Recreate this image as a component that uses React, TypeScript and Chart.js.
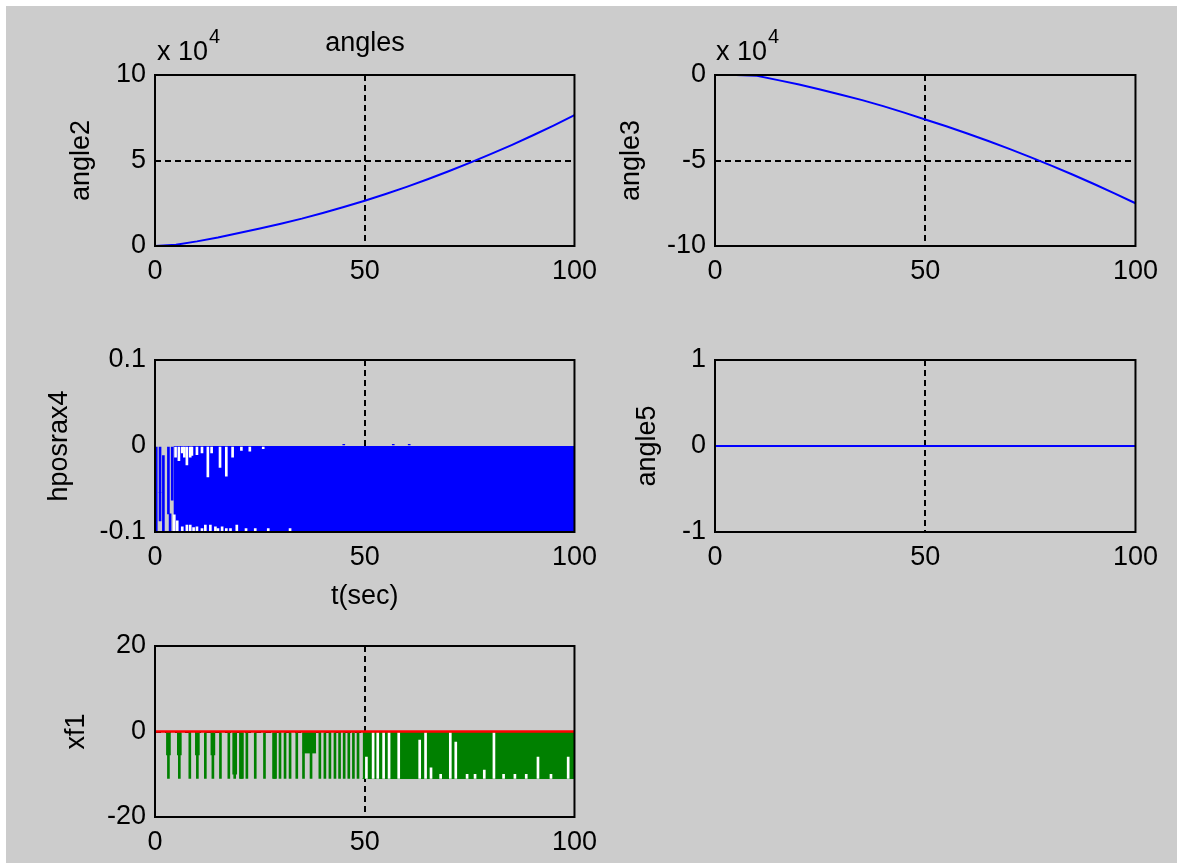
import React, { useEffect, useRef } from "react";
import { Chart, registerables } from "chart.js";

Chart.register(...registerables);

const FAMILY = "'Liberation Sans', Arial, Helvetica, sans-serif";
const FS = 27;

// ---------- data ----------
const xTicks = [0, 50, 100];

const tAngle = [0, 5, 10, 15, 20, 25, 30, 35, 40, 45, 50, 55, 60, 65, 70, 75, 80, 85, 90, 95, 100];
// values in units of 10^4
const angle2 = [0, 0.08, 0.27, 0.5, 0.76, 1.02, 1.3, 1.6, 1.93, 2.28, 2.65, 3.04, 3.46, 3.9, 4.37, 4.86, 5.37, 5.9, 6.46, 7.04, 7.65];
const angle3 = [0, 0, -0.05, -0.3, -0.56, -0.85, -1.15, -1.47, -1.82, -2.2, -2.6, -3.0, -3.42, -3.86, -4.32, -4.8, -5.3, -5.82, -6.36, -6.92, -7.5];
const yTicksAngle2 = [0, 5, 10];
const yTicksAngle3 = [-10, -5, 0];

const tAngle5 = [0, 100];
const angle5 = [0, 0];
const yTicksAngle5 = [-1, 0, 1];

// hposrax4 : dense oscillation between 0 and -0.1
const yTicksHpos = [-0.1, 0, 0.1];
const hposBlockT = [4.4, 100];
const hposBlockY = [-0.1, -0.1];
const hposStrokeT = [0.3, 1.2, 1.2, 2.0, 3.2, 3.6, 4.1];
const hposStrokeLo = [-0.1, -0.054, -0.087, -0.1, -0.079, -0.1, -0.063];
const hposStrokeHi = [0, 0, -0.054, -0.011, 0, -0.079, 0];
const hposTopGapT = [4.9, 5.7, 6.5, 7.0, 7.6, 8.4, 8.8, 10, 11.2, 12.6, 13.5, 15.5, 17, 18.5, 20.6, 22.6, 25.8];
const hposTopGapDepth = [-0.013, -0.017, -0.008, -0.013, -0.022, -0.013, -0.011, -0.01, -0.008, -0.036, -0.008, -0.025, -0.035, -0.013, -0.005, -0.006, -0.003];
const hposBottomGapT = [4.6, 5.3, 6.5, 7.6, 8.4, 9.2, 10, 11.2, 12, 13.2, 14.4, 15, 16, 17, 18, 19.5, 21.7, 23.9, 27, 32.2];
const hposBottomGapTop = [-0.08, -0.087, -0.094, -0.092, -0.092, -0.095, -0.094, -0.096, -0.092, -0.092, -0.094, -0.096, -0.094, -0.096, -0.096, -0.092, -0.096, -0.096, -0.096, -0.096];
const hposBlipT = [45, 56.8, 60.6];
const hposBlipY = [0.002, 0.002, 0.002];

// xf1 : pulses between 0 and about -11
const yTicksXf = [-20, 0, 20];
const xfRefT = [0, 100];
const xfRefY = [0, 0];
const xfThinT = [3.2, 5.8, 8.3, 10.1, 12.0, 13.8, 15.6, 17.6, 19.0, 20.6, 21.9, 23.9, 26.1, 28.5, 29.8, 31.0, 32.2, 33.8, 35.4, 37.2, 39.3, 40.5, 41.7, 42.9, 44.0, 45.1, 46.2, 47.3, 48.4];
const xfThinLo = [-11, -11, -11, -11, -11, -11, -11, -11, -11, -11, -11, -11, -11, -11, -11, -11, -11, -11, -11, -11, -11, -11, -11, -11, -11, -11, -11, -11, -11];
const xfThickT = [3.2, 5.8, 10.1, 13.8, 19.0, 20.6, 28.5];
const xfThickLo = [-5.5, -5.5, -5.5, -5.5, -10, -11, -11];
const xfShelfT = [35.2, 38.4];
const xfShelfY = [-5, -5];
const xfBlockT = [49.5, 100];
const xfBlockY = [-11, -11];
const xfGapT = [50.4, 52.0, 53.1, 54.5, 55.8, 58.1, 63.1, 64.5, 65.8, 68.1, 70.4, 71.7, 74.4, 76.3, 78.5, 80.8, 83.1, 85.8, 88.5, 91.3, 94.4, 98.5];
const xfGapTop = [-6, 0, 0, 0, 0, 0, -2, 0, -8.5, -10, 0, -2.5, -10, -10, -9, 0, -10, -10, -10, -6, -10, -6];

// ---------- helpers ----------
const pts = (xs: number[], ys: number[]) => xs.map((x, i) => ({ x, y: ys[i] }));

function lineDS(xs: number[], ys: number[], color: string, width: number, order: number) {
  return { type: "line", data: pts(xs, ys), borderColor: color, borderWidth: width, pointRadius: 0, fill: false, tension: 0, order };
}
function fillDS(xs: number[], ys: number[], color: string, order: number) {
  return { type: "line", data: pts(xs, ys), borderColor: color, backgroundColor: color, borderWidth: 1, pointRadius: 0, fill: { value: 0 }, tension: 0, order };
}
function barDS(xs: number[], lo: number[] | number, hi: number[] | number, color: string, thickness: number, order: number) {
  return {
    type: "bar",
    data: xs.map((x, i) => ({ x, y: [Array.isArray(lo) ? lo[i] : lo, Array.isArray(hi) ? hi[i] : hi] })),
    backgroundColor: color,
    borderWidth: 0,
    barThickness: thickness,
    grouped: false,
    order,
  };
}

const framePlugin = {
  id: "frame",
  afterDatasetsDraw(chart: any) {
    const { ctx, chartArea: a } = chart;
    ctx.save();
    ctx.strokeStyle = "#000";
    ctx.lineWidth = 2;
    ctx.strokeRect(a.left, a.top, a.right - a.left, a.bottom - a.top);
    ctx.restore();
  },
};

const notesPlugin = {
  id: "notes",
  afterDraw(chart: any, _args: any, opts: any) {
    const items = (opts && opts.items) || [];
    const { ctx, chartArea: a } = chart;
    ctx.save();
    ctx.fillStyle = "#000";
    for (const it of items) {
      ctx.font = `${it.size}px ${FAMILY}`;
      ctx.textAlign = it.align || "left";
      ctx.textBaseline = "alphabetic";
      const x = a.left + it.dx;
      const y = a.top + it.dy;
      ctx.fillText(it.text, x, y);
      if (it.sup) {
        const w = ctx.measureText(it.text).width;
        ctx.font = `${it.supSize}px ${FAMILY}`;
        ctx.textAlign = "left";
        ctx.fillText(it.sup, x + w + (it.supDx || 0), y + it.supDy);
      }
    }
    ctx.restore();
  },
};

const WL = 130;
const WR = 30;

type Spec = {
  id: string; L: number; T: number; W: number; H: number; HT: number; HB: number;
  yMin: number; yMax: number; yTicks: number[]; yLabel: string; yLabelPad: number;
  yGridHide?: number[];
  xTitle?: string; xTitlePad?: number; datasets: any[]; notes?: any[];
};

const expNote = (dx: number) => ({ text: "x 10", size: FS, dx, dy: -15, sup: "4", supSize: 20, supDx: 1, supDy: -17 });

const specs: Spec[] = [
  {
    id: "a2", L: 155, T: 75, W: 421, H: 171, HT: 60, HB: 50,
    yMin: 0, yMax: 10, yTicks: yTicksAngle2, yLabel: "angle2", yLabelPad: 40.8,
    datasets: [lineDS(tAngle, angle2, "#0000ff", 2, 0)],
    notes: [{ text: "angles", size: FS, dx: 210, dy: -24, align: "center" }, expNote(2)],
  },
  {
    id: "a3", L: 715, T: 75, W: 422, H: 171, HT: 60, HB: 50,
    yMin: -10, yMax: 0, yTicks: yTicksAngle3, yLabel: "angle3", yLabelPad: 30.3,
    datasets: [lineDS(tAngle, angle3, "#0000ff", 2, 0)],
    notes: [expNote(1)],
  },
  {
    id: "h4", L: 155, T: 360, W: 421, H: 172, HT: 30, HB: 85,
    yMin: -0.1, yMax: 0.1, yTicks: yTicksHpos, yLabel: "hposrax4", yLabelPad: 18.3,
    yGridHide: [0],
    xTitle: "t(sec)", xTitlePad: 3.8,
    datasets: [
      barDS(hposTopGapT, hposTopGapDepth, 0, "#ffffff", 2, 1),
      barDS(hposBottomGapT, -0.1, hposBottomGapTop, "#ffffff", 2, 1),
      barDS(hposStrokeT, hposStrokeLo, hposStrokeHi, "#0000ff", 2, 2),
      barDS(hposBlipT, 0, hposBlipY, "#0000ff", 2, 2),
      fillDS(hposBlockT, hposBlockY, "#0000ff", 3),
    ],
  },
  {
    id: "a5", L: 715, T: 360, W: 422, H: 172, HT: 30, HB: 50,
    yMin: -1, yMax: 1, yTicks: yTicksAngle5, yLabel: "angle5", yLabelPad: 46.8,
    datasets: [lineDS(tAngle5, angle5, "#0000ff", 2, 0)],
  },
  {
    id: "x1", L: 155, T: 646, W: 421, H: 171, HT: 30, HB: 46,
    yMin: -20, yMax: 20, yTicks: yTicksXf, yLabel: "xf1", yLabelPad: 35.8,
    datasets: [
      lineDS(xfRefT, xfRefY, "#ff0000", 2.5, 0),
      barDS(xfGapT, -11, xfGapTop, "#ffffff", 2, 1),
      barDS(xfThickT, xfThickLo, 0, "#008000", 4, 2),
      barDS(xfThinT, xfThinLo, 0, "#008000", 2, 2),
      fillDS(xfShelfT, xfShelfY, "#008000", 3),
      fillDS(xfBlockT, xfBlockY, "#008000", 3),
    ],
  },
];

const CLEAR = "rgba(0,0,0,0)";

function makeConfig(s: Spec): any {
  const tickFont = { family: FAMILY, size: FS, lineHeight: 1.2 };
  const xGridColor = (c: any) => {
    const v = c.tick ? c.tick.value : null;
    return v === 0 || v === 100 ? CLEAR : "#000";
  };
  const yGridColor = (c: any) => {
    const v = c.tick ? c.tick.value : null;
    if (v === s.yMin || v === s.yMax) return CLEAR;
    if (s.yGridHide && s.yGridHide.includes(v)) return CLEAR;
    return "#000";
  };
  return {
    type: "line",
    data: { datasets: s.datasets },
    plugins: [framePlugin, notesPlugin],
    options: {
      animation: false,
      responsive: false,
      events: [],
      layout: { padding: { left: 0, right: WR, top: s.HT, bottom: 0 } },
      plugins: {
        legend: { display: false },
        tooltip: { enabled: false },
        title: { display: false },
        notes: { items: s.notes || [] },
      },
      scales: {
        x: {
          type: "linear",
          min: 0,
          max: 100,
          offset: false,
          afterBuildTicks: (sc: any) => { sc.ticks = xTicks.map((v) => ({ value: v })); },
          afterFit: (sc: any) => { sc.height = s.HB; },
          grid: { color: xGridColor, lineWidth: 2, drawTicks: false, offset: false },
          border: { display: false, dash: [6, 4] },
          ticks: { color: "#000", font: tickFont, padding: 9, maxRotation: 0, autoSkip: false, callback: (v: any) => `${v}` },
          title: s.xTitle
            ? { display: true, text: s.xTitle, color: "#000", font: tickFont, padding: { top: 0, bottom: s.xTitlePad || 0 } }
            : { display: false },
        },
        y: {
          type: "linear",
          min: s.yMin,
          max: s.yMax,
          afterBuildTicks: (sc: any) => { sc.ticks = s.yTicks.map((v) => ({ value: v })); },
          afterFit: (sc: any) => { sc.width = WL; },
          grid: { color: yGridColor, lineWidth: 2, drawTicks: false },
          border: { display: false, dash: [6, 4] },
          ticks: { color: "#000", font: tickFont, padding: 9, autoSkip: false, callback: (v: any) => `${v}` },
          title: { display: true, text: s.yLabel, color: "#000", font: tickFont, padding: { top: s.yLabelPad, bottom: 0 } },
        },
      },
    },
  };
}

function Subplot({ spec }: { spec: Spec }) {
  const ref = useRef<HTMLCanvasElement>(null);
  const left = spec.L - WL;
  const top = spec.T - spec.HT;
  const width = WL + spec.W + WR;
  const height = spec.HT + spec.H + spec.HB;
  useEffect(() => {
    const chart = new Chart(ref.current as HTMLCanvasElement, makeConfig(spec));
    return () => chart.destroy();
  }, [spec]);
  return (
    <canvas
      ref={ref}
      width={width}
      height={height}
      style={{ position: "absolute", left, top, width, height, display: "block" }}
    />
  );
}

export default function App() {
  return (
    <div style={{ position: "absolute", left: 0, top: 0, width: 1177, height: 863, background: "#ffffff", overflow: "hidden" }}>
      <div style={{ position: "absolute", left: 6, top: 6, width: 1171, height: 857, background: "#cccccc" }} />
      {specs.map((s) => (
        <Subplot key={s.id} spec={s} />
      ))}
    </div>
  );
}
